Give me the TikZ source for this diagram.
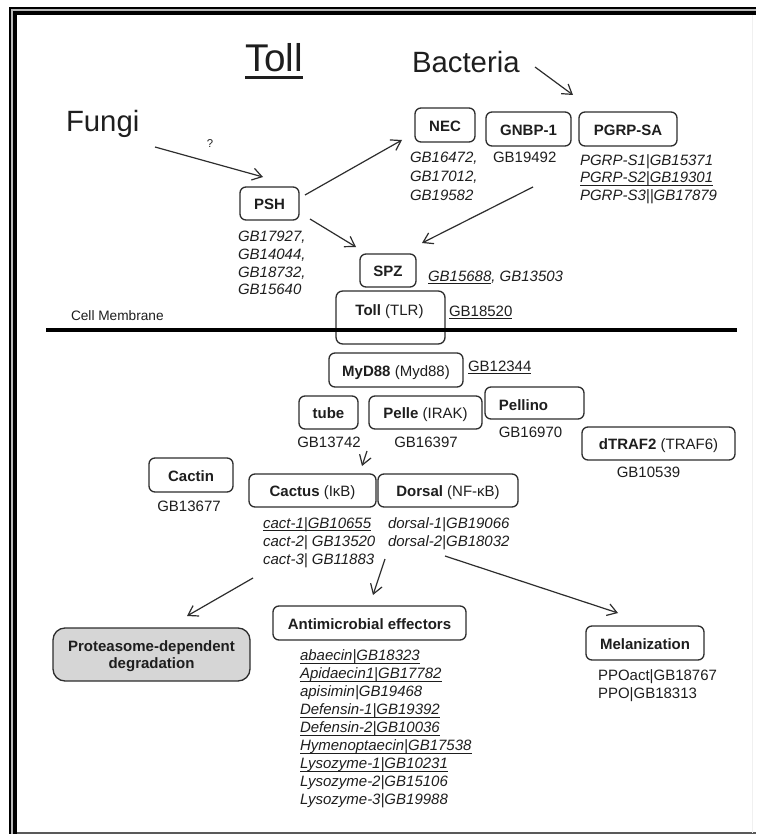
\documentclass[tikz,border=0pt]{standalone}
\usepackage{fontspec}
\setmainfont{Liberation Sans}
\usetikzlibrary{arrows.meta}
\definecolor{ink}{RGB}{30,30,30}
\definecolor{boxline}{RGB}{45,45,45}
\definecolor{protfill}{RGB}{214,214,214}
\newcommand{\ulx}[1]{\setbox0=\hbox{#1}\rlap{\rule[-2.4pt]{\wd0}{0.65pt}}\box0}
\newcommand{\ulT}[1]{\setbox0=\hbox{#1}\rlap{\rule[-4.9pt]{\wd0}{1.9pt}}\box0}
\begin{document}
\begin{tikzpicture}[x=0.75pt,y=-0.75pt,
  every node/.style={inner sep=0pt,outer sep=0pt,text=ink},
  bfont/.style={font=\fontsize{11.25}{13.5}\selectfont},
  ifont/.style={font=\fontsize{11.25}{13.5}\selectfont\itshape},
  lw/.style={anchor=base west,bfont},
  lc/.style={anchor=base,bfont},
  gw/.style={anchor=base west,ifont},
  boldlbl/.style={anchor=base,font=\fontsize{11.25}{13.5}\selectfont\bfseries},
  bx/.style 2 args={draw=boxline,line width=1pt,rounded corners=4.5pt,
    minimum width=#1*0.75pt,minimum height=#2*0.75pt,
    text height=9.5pt,text depth=0pt,
    font=\fontsize{11.25}{13.5}\selectfont\bfseries},
  arr/.style={draw=boxline,line width=0.9pt,-{Straight Barb[length=7pt,width=9pt]}}
]
\fill[white] (0,0) rectangle (756,834);
\useasboundingbox (0,0) rectangle (756,834);
% frame
\fill[black] (9,7) rectangle (756,15);
\fill[black] (9,7) rectangle (17,834);
\fill[gray!55] (11,9) rectangle (756,11);
\fill[gray!55] (11,9) rectangle (13,834);
\draw[gray!70!black,line width=1.1pt] (17,833) -- (756,833);
\draw[gray!12,line width=0.75pt] (752,15) -- (752,833);

% titles
\node[anchor=base west,font=\fontsize{29}{34}\selectfont] (title) at (245,72) {\ulT{Toll}};
\node[anchor=base west,font=\fontsize{22}{26}\selectfont] (fungi) at (66,132) {Fungi};
\node[anchor=base west,font=\fontsize{22}{26}\selectfont] (bact) at (412,73) {Bacteria};
\node[anchor=base,font=\fontsize{8.5}{10}\selectfont] (qm) at (210,148) {?};

% receptors
\node[bx={60}{34}] (nec) at (445,125) {NEC};
\node[bx={85}{34}] (gnbp) at (528.5,129) {GNBP-1};
\node[bx={98}{34}] (pgrp) at (628,129) {PGRP-SA};
\node[gw] (nec1) at (410,163) {GB16472,};
\node[gw] (nec2) at (410,181.5) {GB17012,};
\node[gw] (nec3) at (410,200) {GB19582};
\node[lw] (gnbpg) at (493,163) {GB19492};
\node[gw] (pg1) at (580,166) {PGRP-S1|GB15371};
\node[gw] (pg2) at (580,183) {\ulx{PGRP-S2|GB19301}};
\node[gw] (pg3) at (580,200) {PGRP-S3||GB17879};

\node[bx={59}{33}] (psh) at (269.5,203.5) {PSH};
\node[gw] (psh1) at (238,241) {GB17927,};
\node[gw] (psh2) at (238,259) {GB14044,};
\node[gw] (psh3) at (238,277) {GB18732,};
\node[gw] (psh4) at (238,294) {GB15640};

\node[bx={56}{33}] (spz) at (388,270.5) {SPZ};
\node[gw] (spzg) at (428,281) {\ulx{GB15688}, GB13503};

\node[draw=boxline,line width=1pt,rounded corners=5pt,minimum width=109*0.75pt,minimum height=53*0.75pt] (toll) at (390.5,317.5) {};
\node[boldlbl] (tolltxt) at (389.5,315) {Toll \mdseries(TLR)};
\node[lw] (tollg) at (449,316) {\ulx{GB18520}};
\node[anchor=base west,font=\fontsize{10.25}{12}\selectfont] (cellm) at (71,320) {Cell Membrane};
\coordinate (memL) at (46,330);
\coordinate (memR) at (737,330);
\draw[black,line width=2.3pt] (memL) -- (memR);

% intracellular
\node[bx={134}{34}] (myd) at (396,370) {MyD88 \mdseries(Myd88)};
\node[lw] (mydg) at (468,371) {\ulx{GB12344}};
\node[bx={59}{33}] (tube) at (328.5,412.5) {tube};
\node[bx={113}{33}] (pelle) at (425.5,412.5) {Pelle \mdseries(IRAK)};
\node[draw=boxline,line width=1pt,rounded corners=4.5pt,minimum width=99*0.75pt,minimum height=32*0.75pt] (pellino) at (534.5,403) {};
\node[boldlbl] (pellinotxt) at (523.5,410) {Pellino};
\node[bx={153}{33}] (traf) at (658.5,443.5) {dTRAF2 \mdseries(TRAF6)};
\node[lc] (tubeg) at (329,447) {GB13742};
\node[lc] (pelleg) at (426,447) {GB16397};
\node[lc] (pellinog) at (530.5,437) {GB16970};
\node[lc] (trafg) at (648.5,477) {GB10539};

\node[bx={84}{34}] (cactin) at (191,475) {Cactin};
\node[lc] (cacting) at (189,511) {GB13677};
\node[bx={127}{33}] (cactus) at (312.5,490.5) {Cactus \mdseries(IκB)};
\node[bx={140}{33}] (dorsal) at (448,490.5) {Dorsal \mdseries(NF-κB)};
\node[gw] (ca1) at (263,528) {\ulx{cact-1|GB10655}};
\node[gw] (ca2) at (263,546) {cact-2| GB13520};
\node[gw] (ca3) at (263,564) {cact-3| GB11883};
\node[gw] (do1) at (388,528) {dorsal-1|GB19066};
\node[gw] (do2) at (388,546) {dorsal-2|GB18032};

% outputs
\node[bx={197}{53},fill=protfill,rounded corners=9pt] (prot) at (151.5,654.5) {};
\node[boldlbl] (prot1) at (151.5,651) {Proteasome-dependent};
\node[boldlbl] (prot2) at (151.5,668) {degradation};
\node[bx={193}{34}] (amp) at (369.5,623) {Antimicrobial effectors};
\node[bx={118}{34}] (mel) at (645,643) {Melanization};

\node[gw] (am1) at (300,660.5) {\ulx{abaecin|GB18323}};
\node[gw] (am2) at (300,678.5) {\ulx{Apidaecin1|GB17782}};
\node[gw] (am3) at (300,696.5) {apisimin|GB19468};
\node[gw] (am4) at (300,714.5) {\ulx{Defensin-1|GB19392}};
\node[gw] (am5) at (300,732.5) {\ulx{Defensin-2|GB10036}};
\node[gw] (am6) at (300,750.5) {\ulx{Hymenoptaecin|GB17538}};
\node[gw] (am7) at (300,768.5) {\ulx{Lysozyme-1|GB10231}};
\node[gw] (am8) at (300,786.5) {Lysozyme-2|GB15106};
\node[gw] (am9) at (300,804.5) {Lysozyme-3|GB19988};
\node[lw] (mel1) at (598,680) {PPOact|GB18767};
\node[lw] (mel2) at (598,698) {PPO|GB18313};

% arrows
\coordinate (fA) at (155,147); \coordinate (fB) at (263,177);
\coordinate (bA) at (535,67);  \coordinate (bB) at (573,95);
\coordinate (pnA) at (305,195); \coordinate (pnB) at (402,140);
\coordinate (psA) at (310,219); \coordinate (psB) at (356,247);
\coordinate (gsA) at (533,187); \coordinate (gsB) at (422,243);
\coordinate (tcA) at (367,451); \coordinate (tcB) at (362,466);
\coordinate (cpA) at (253,578); \coordinate (cpB) at (187,616);
\coordinate (caA) at (385,559); \coordinate (caB) at (373,595);
\coordinate (dmA) at (445,556); \coordinate (dmB) at (618,613);
\draw[arr] (fA) -- (fB);
\draw[arr] (bA) -- (bB);
\draw[arr] (pnA) -- (pnB);
\draw[arr] (psA) -- (psB);
\draw[arr] (gsA) -- (gsB);
\draw[arr] (tcA) -- (tcB);
\draw[arr] (cpA) -- (cpB);
\draw[arr] (caA) -- (caB);
\draw[arr] (dmA) -- (dmB);
\end{tikzpicture}
\end{document}
